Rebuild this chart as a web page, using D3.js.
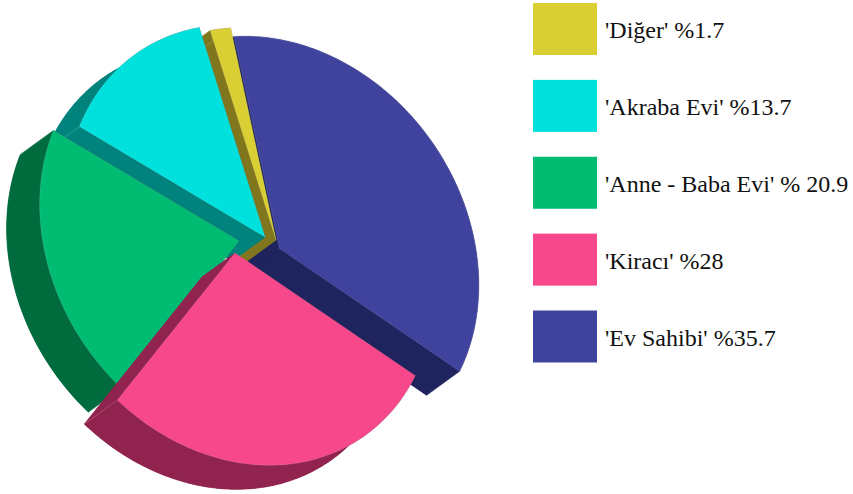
<!DOCTYPE html>
<html>
<head>
<meta charset="utf-8">
<script src="https://cdnjs.cloudflare.com/ajax/libs/d3/7.8.5/d3.min.js"></script>
<style>
    html, body { margin: 0; padding: 0; background: #fff; }
    svg { display: block; }
    text { font-family: "Liberation Serif", "Times New Roman", serif; fill: #111; }
</style>
</head>
<body>
<div id="chart"></div>
<script>
const categories = ["Diğer", "Akraba Evi", "Anne - Baba Evi", "Kiracı", "Ev Sahibi"];
const values = [1.7, 13.7, 20.9, 28, 35.7];
const legendLabels = ["'Diğer' %1.7", "'Akraba Evi' %13.7", "'Anne - Baba Evi' % 20.9", "'Kiracı' %28", "'Ev Sahibi' %35.7"];
const topColors = ["#d9ce33", "#00e0dc", "#00bb72", "#f6488b", "#3f439e"];
const sideColors = ["#80761e", "#00837d", "#006b3d", "#90244f", "#1f245f"];

const width = 853;
const height = 494;

// where each pulled out wedge has its tip
const tips = [[276, 240], [265, 237], [239, 241], [235, 253], [279.5, 248.5]];
const depth = [-33, 24];

// the tilted disc is an ellipse, long axis at 55 degrees
const rx = 224, ry = 186;
const ux = 0.574, uy = 0.819;
const startAngle = 153 * Math.PI / 180;

const svg = d3.select("#chart")
    .append("svg")
    .attr("width", width)
    .attr("height", height);

const pie = d3.pie().sort(null).startAngle(0).endAngle(2 * Math.PI);
const arcs = pie(values);

const line = d3.line();

function rimPoint(a) {
    const t = startAngle + a;
    const p = rx * Math.cos(t), q = ry * Math.sin(t);
    return [p * ux + q * uy, p * uy - q * ux];
}

function rim(d) {
    const n = Math.max(4, Math.ceil((d.endAngle - d.startAngle) * 60));
    return d3.range(n + 1).map(i => rimPoint(d.startAngle + (d.endAngle - d.startAngle) * i / n));
}

function shift(pts) {
    return pts.map(p => [p[0] + depth[0], p[1] + depth[1]]);
}

// back to front, the big wedge first
const drawOrder = [4, 0, 1, 2, 3];

const wedges = svg.append("g")
    .selectAll("g")
    .data(drawOrder)
    .join("g")
    .attr("transform", i => "translate(" + tips[i][0] + "," + tips[i][1] + ")");

wedges.each(function (i) {
    const g = d3.select(this);
    const edge = rim(arcs[i]);
    const face = [[0, 0]].concat(edge);
    const first = edge[0], last = edge[edge.length - 1];

    const walls = [
        shift(face),
        [[0, 0], first].concat(shift([first, [0, 0]])),
        [[0, 0], last].concat(shift([last, [0, 0]])),
        edge.concat(shift(edge).reverse())
    ];

    g.selectAll("path.wall")
        .data(walls)
        .join("path")
        .attr("class", "wall")
        .attr("d", d => line(d) + "Z")
        .attr("fill", sideColors[i])
        .attr("stroke", sideColors[i])
        .attr("stroke-width", 0.4);

    // thin light seams where the walls meet
    g.selectAll("path.seam")
        .data([first, last])
        .join("path")
        .attr("class", "seam")
        .attr("d", d => line([d, [d[0] + depth[0], d[1] + depth[1]]]))
        .attr("fill", "none")
        .attr("stroke", "#fff")
        .attr("stroke-opacity", 0.3)
        .attr("stroke-width", 0.6);

    g.append("path")
        .attr("class", "top")
        .attr("d", line(face) + "Z")
        .attr("fill", topColors[i])
        .attr("stroke", "#fff")
        .attr("stroke-opacity", 0.25)
        .attr("stroke-width", 0.5);
});

// legend
const legendY = d3.scalePoint()
    .domain(categories)
    .range([3, 310.5]);

const legend = svg.append("g")
    .selectAll("g")
    .data(categories)
    .join("g")
    .attr("transform", d => "translate(533," + legendY(d) + ")");

legend.append("rect")
    .attr("width", 64)
    .attr("height", 52)
    .attr("fill", (d, i) => topColors[i]);

legend.append("text")
    .attr("x", 72)
    .attr("y", 35)
    .attr("font-size", 24)
    .text((d, i) => legendLabels[i]);
</script>
</body>
</html>
